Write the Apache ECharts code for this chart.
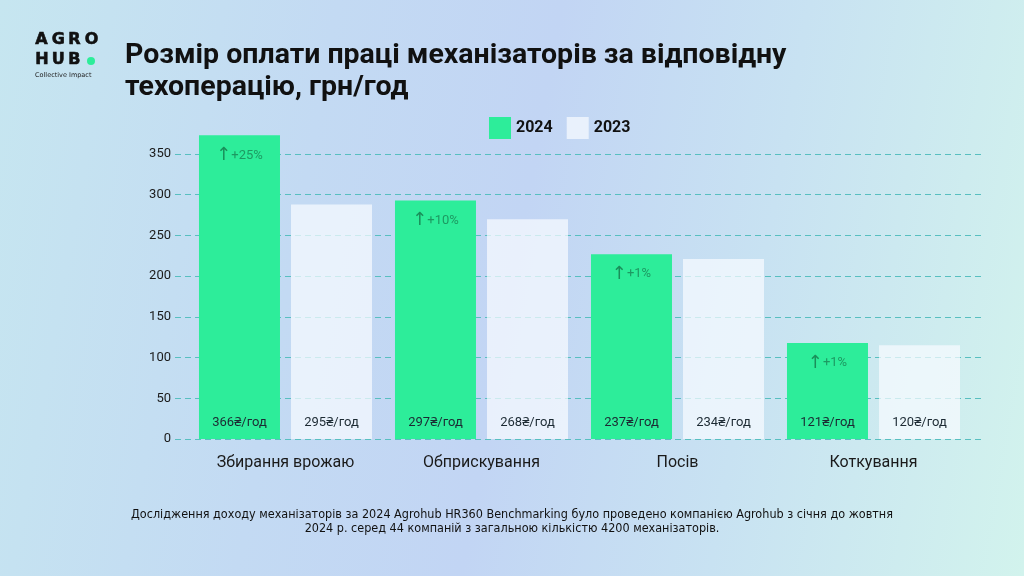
<!DOCTYPE html>
<html>
<head>
<meta charset="utf-8">
<script src="https://cdn.jsdelivr.net/npm/echarts@6/dist/echarts.min.js"></script>
<style>
html,body{margin:0;padding:0;width:1024px;height:576px;overflow:hidden;
background:linear-gradient(100deg,#c6e6f0 0%,#c3daf3 30%,#c2d5f4 50%,#c8e2f2 72%,#d2f3ed 100%);}
#c{width:1024px;height:576px;}
</style>
</head>
<body>
<div id="c"></div>
<script>
const categories = ['Збирання врожаю', 'Обприскування', 'Посів', 'Коткування'];
const values2024 = [373, 293, 227, 118];
const values2023 = [288, 270, 221, 115];
const labels2024 = ['366₴/год', '297₴/год', '237₴/год', '121₴/год'];
const labels2023 = ['295₴/год', '268₴/год', '234₴/год', '120₴/год'];
const growth = ['+25%', '+10%', '+1%', '+1%'];
const yTicks = [0, 50, 100, 150, 200, 250, 300, 350];

const FONT = 'Roboto, "Noto Sans", sans-serif';
const chart = echarts.init(document.getElementById('c'));

const logo = [];
const LF = 'bold 16px "DejaVu Sans"';
['A','G','R','O'].forEach((ch,i)=>logo.push({type:'text',left:35+i*16.5,top:32,style:{text:ch,font:LF,fill:'#111',stroke:'#111',lineWidth:0.6}}));
['H','U','B'].forEach((ch,i)=>logo.push({type:'text',left:35+i*16.5,top:52,style:{text:ch,font:LF,fill:'#111',stroke:'#111',lineWidth:0.6}}));
logo.push({type:'circle',shape:{cx:91,cy:61,r:4},style:{fill:'#2ded9a'}});
logo.push({type:'text',left:35,top:72,style:{text:'Collective Impact',font:'6.5px "DejaVu Sans"',fill:'#222'}});
logo.push({type:'text',x:512,y:508,style:{
  text:'Дослідження доходу механізаторів за 2024 Agrohub HR360 Benchmarking було проведено компанією Agrohub з січня до жовтня\n2024 р. серед 44 компаній з загальною кількістю 4200 механізаторів.',
  font:'12.5px "Liberation Sans Narrow", "DejaVu Sans Condensed", sans-serif',fill:'#111',align:'center',verticalAlign:'top',lineHeight:14}});

chart.setOption({
  animation:false,
  title:{text:'Розмір оплати праці механізаторів за відповідну\nтехоперацію, грн/год',left:120,top:35,
    textStyle:{fontFamily:FONT,fontSize:28.5,fontWeight:'bold',color:'#111',lineHeight:32}},
  legend:{data:['2024','2023'],left:484,top:112,icon:'rect',itemWidth:22,itemHeight:22,itemGap:14,
    textStyle:{fontFamily:FONT,fontSize:16,fontWeight:'bold',color:'#111'}},
  graphic:logo,
  grid:[
    {left:175,right:40,top:154,bottom:137},
    {left:187.5,right:52.5,top:154,bottom:137}
  ],
  xAxis:[
    {gridIndex:0,type:'value',show:false,min:0,max:1},
    {gridIndex:1,type:'category',data:categories,axisLine:{show:false},axisTick:{show:false},
      axisLabel:{fontFamily:FONT,fontSize:16,color:'#1a1a1a',margin:16}},
    {gridIndex:1,type:'category',data:categories,show:false}
  ],
  yAxis:[
    {gridIndex:0,type:'value',min:0,max:350,interval:50,axisLine:{show:false},axisTick:{show:false},
      axisLabel:{fontFamily:FONT,fontSize:13,color:'#1a1a1a',margin:4,
        formatter:v=>yTicks.includes(v)?String(v):''},
      splitLine:{lineStyle:{color:'#58bfc0',type:[6,4],width:1}}},
    {gridIndex:1,type:'value',min:0,max:350,interval:50,show:false,splitLine:{show:false}}
  ],
  series:[
    {name:'2024',type:'bar',xAxisIndex:1,yAxisIndex:1,data:values2024,barWidth:81,barGap:'13.6%',clip:false,
      itemStyle:{color:'#2ded9a'},
      label:{show:true,position:'insideBottom',distance:10,fontFamily:FONT,fontSize:13,color:'#1c2a33',
        formatter:p=>labels2024[p.dataIndex]}},
    {name:'2023',type:'bar',xAxisIndex:1,yAxisIndex:1,data:values2023,barWidth:81,barGap:'13.6%',clip:false,
      itemStyle:{color:'rgba(248,251,255,0.72)'},
      label:{show:true,position:'insideBottom',distance:10,fontFamily:FONT,fontSize:13,color:'#1c2a33',
        formatter:p=>labels2023[p.dataIndex]}},
    {name:'growth',type:'bar',xAxisIndex:2,yAxisIndex:1,data:values2024,barWidth:81,barGap:'13.6%',clip:false,
      itemStyle:{color:'rgba(0,0,0,0)'},silent:true,
      label:{show:true,position:'insideTop',distance:11,color:'#1d9a62',
        formatter:p=>'{a|↑}{t|'+growth[p.dataIndex]+'}',
        rich:{a:{fontFamily:'"DejaVu Sans"',fontSize:18,color:'#1a8f5a',fontWeight:'normal'},
              t:{fontFamily:FONT,fontSize:13,color:'#1d9a62'}}}},
    {name:'placeholder',type:'bar',xAxisIndex:2,yAxisIndex:1,data:values2023.map(()=>'-'),barWidth:81,barGap:'13.6%',silent:true}
  ]
});
</script>
</body>
</html>
